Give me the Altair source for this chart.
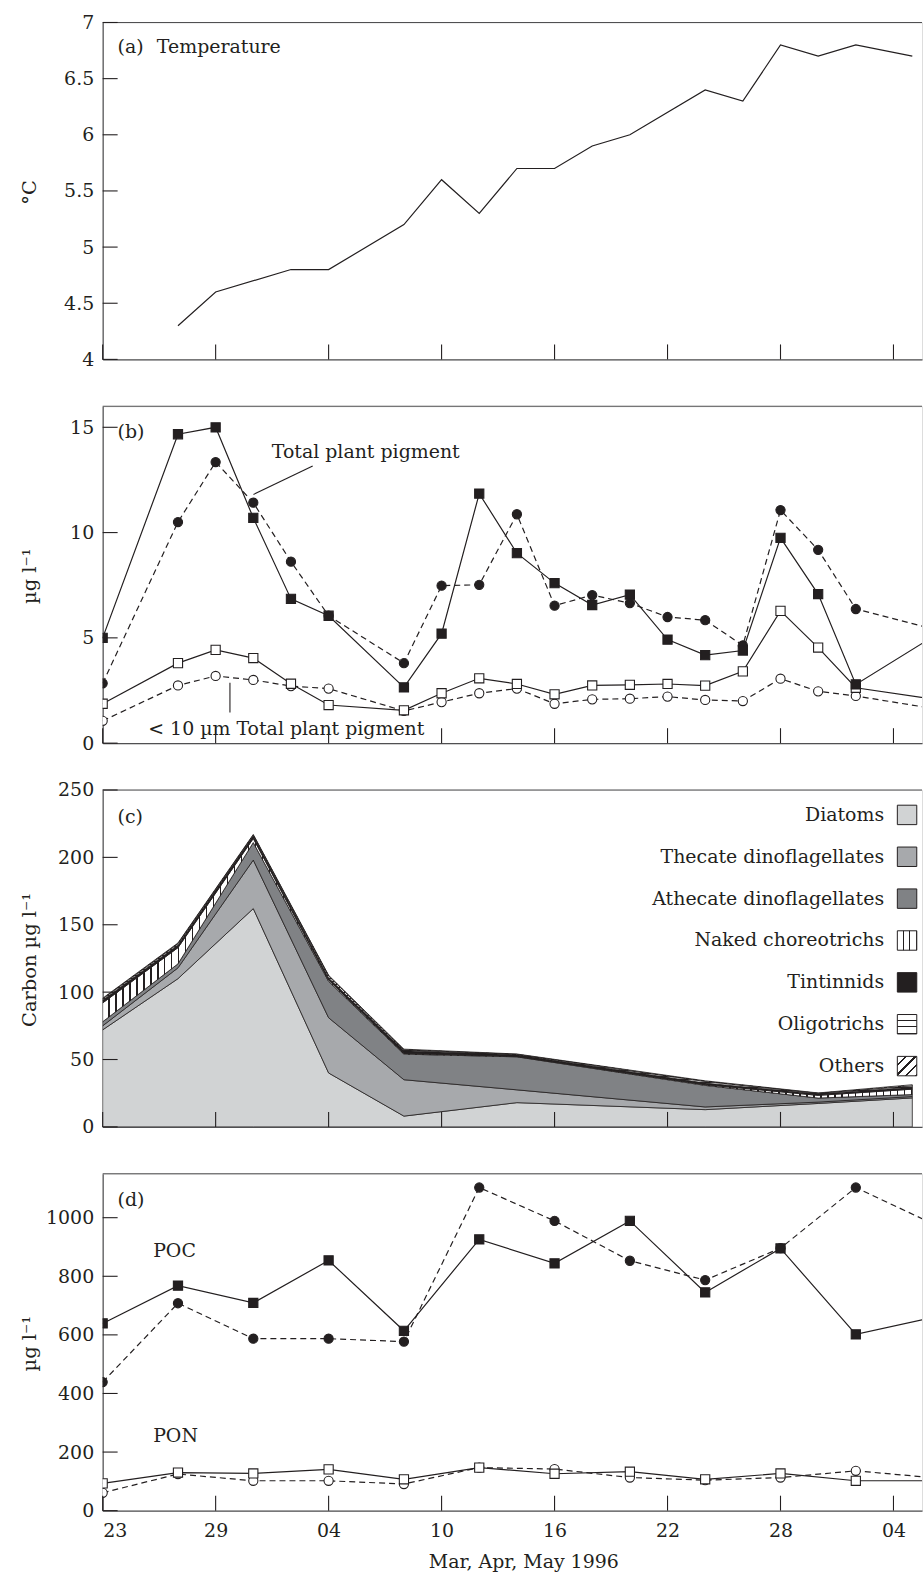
import altair as alt
import pandas as pd

FONT = "DejaVu Serif"
INK = "#231f20"
FRAME = "#505052"
FS = 19
W, H = 822, 338

# ---------------- data ----------------
# (a) temperature
temp_dates = ["1996-03-27", "1996-03-29", "1996-04-02", "1996-04-04", "1996-04-08",
              "1996-04-10", "1996-04-12", "1996-04-14", "1996-04-16", "1996-04-18",
              "1996-04-20", "1996-04-24", "1996-04-26", "1996-04-28", "1996-04-30",
              "1996-05-02", "1996-05-05"]
temp_vals = [4.3, 4.6, 4.8, 4.8, 5.2, 5.6, 5.3, 5.7, 5.7, 5.9, 6.0, 6.4, 6.3, 6.8, 6.7, 6.8, 6.7]

# (b) plant pigment
pig_dates = ["1996-03-23", "1996-03-27", "1996-03-29", "1996-03-31", "1996-04-02", "1996-04-04",
             "1996-04-08", "1996-04-10", "1996-04-12", "1996-04-14", "1996-04-16", "1996-04-18",
             "1996-04-20", "1996-04-22", "1996-04-24", "1996-04-26", "1996-04-28", "1996-04-30",
             "1996-05-02", "1996-05-06"]
pig_filled_sq = [5.0, 14.67, 15.0, 10.7, 6.85, 6.05, 2.65, 5.2, 11.85, 9.02, 7.6, 6.56,
                 7.05, 4.92, 4.18, 4.4, 9.75, 7.08, 2.79, 5.0]
pig_filled_ci = [2.84, 10.5, 13.35, 11.42, 8.62, 6.05, 3.8, 7.48, 7.52, 10.87, 6.53, 7.03,
                 6.65, 5.99, 5.84, 4.64, 11.07, 9.18, 6.37, 5.45]
pig_open_sq = [1.87, 3.8, 4.43, 4.04, 2.82, 1.81, 1.56, 2.37, 3.08, 2.81, 2.32, 2.74,
               2.77, 2.81, 2.73, 3.41, 6.28, 4.54, 2.63, 2.11]
pig_open_ci = [1.06, 2.74, 3.19, 3.0, 2.71, 2.59, 1.53, 1.95, 2.37, 2.59, 1.87, 2.08,
               2.11, 2.21, 2.05, 2.0, 3.06, 2.46, 2.24, 1.66]

# (c) carbon biomass (stacked)
carb_dates = ["1996-03-23", "1996-03-27", "1996-03-31", "1996-04-04", "1996-04-08",
              "1996-04-14", "1996-04-24", "1996-04-30", "1996-05-05"]
taxa = ["Diatoms", "Thecate dinoflagellates", "Athecate dinoflagellates",
        "Naked choreotrichs", "Tintinnids", "Oligotrichs", "Others"]
carb_diatoms = [72, 110, 162, 40, 8, 18, 12.8, 17.4, 21.5]
carb_thecate = [3, 8, 36, 41, 27, 9.5, 2, 1, 1]
carb_athecate = [3, 3, 13, 27, 19, 24.5, 16, 3, 1.5]
carb_naked = [14, 12, 3, 1, 0.5, 0.3, 0.5, 2, 4]
carb_tintinnids = [2, 2, 2, 1.5, 2, 1.2, 1.2, 1, 1.5]
carb_oligotrichs = [1, 1, 0.5, 1.5, 0.7, 0.3, 1.2, 0.5, 1]
carb_others = [0.5, 0.5, 0.5, 0.5, 0.5, 0.3, 0.5, 0.3, 0.8]

# (d) POC / PON
pp_dates = ["1996-03-23", "1996-03-27", "1996-03-31", "1996-04-04", "1996-04-08", "1996-04-12",
            "1996-04-16", "1996-04-20", "1996-04-24", "1996-04-28", "1996-05-02", "1996-05-06"]
poc_sq = [639, 768, 709, 854, 614, 926, 844, 989, 745, 895, 602, 658]
poc_ci = [439, 708, 587, 587, 577, 1103, 989, 853, 787, 896, 1103, 982]
pon_sq = [93, 130, 127, 141, 107, 147, 126, 133, 107, 127, 102, 102]
pon_ci = [61, 125, 102, 102, 91, 147, 142, 113, 104, 113, 136, 113]

tick_days = ["1996-03-23", "1996-03-29", "1996-04-04", "1996-04-10", "1996-04-16",
             "1996-04-22", "1996-04-28", "1996-05-04"]
x_title = "Mar, Apr, May 1996"

# ---------------- helpers ----------------
def ts(d):
    return d + "T00:00:00" if len(d) == 10 else d

X_START = "1996-03-23T00:00:00"
X_END = "1996-05-05T12:22:00"
X_SCALE = alt.Scale(domain=[alt.DateTime(year=1996, month=3, date=23),
                            alt.DateTime(year=1996, month=5, date=5, hours=12, minutes=22)])
TICKS = [alt.DateTime(year=int(d[:4]), month=int(d[5:7]), date=int(d[8:10])) for d in tick_days]


def x_enc(field, bottom=False):
    kw = dict(values=TICKS, format="%d", labels=bottom, ticks=False, tickSize=0, grid=False,
              domain=True, domainColor=FRAME, domainWidth=1.2)
    if bottom:
        kw.update(labelFont=FONT, labelFontSize=FS, labelColor=INK, labelPadding=11,
                  labelBaseline="top", title=x_title, titleFont=FONT, titleFontSize=FS,
                  titleFontWeight="normal", titleColor=INK, titleX=422, titleY=51,
                  titleBaseline="middle", titleAlign="center")
    else:
        kw.update(title=None)
    return alt.X(field + ":T", scale=X_SCALE, axis=alt.Axis(**kw))


def y_enc(field, domain, values, fmt, title):
    ax = alt.Axis(values=values, format=fmt, ticks=False, tickSize=0, grid=False,
                  domain=True, domainColor=FRAME, domainWidth=1.2,
                  labelFont=FONT, labelFontSize=FS, labelColor=INK, labelPadding=9,
                  title=title, titleFont=FONT, titleFontSize=FS + 0.5, titleFontWeight="normal",
                  titleColor=INK, titleX=-63, titleY=170, titleAngle=270,
                  titleBaseline="bottom", titleAlign="center")
    return alt.Y(field + ":Q", scale=alt.Scale(domain=domain, nice=False, zero=False), axis=ax)


def frame_top(yargs, bottom):
    df = pd.DataFrame({"start": [X_START], "end": [X_END], "top": [yargs[0][1]]})
    return alt.Chart(df).mark_rule(color=FRAME, strokeWidth=1.2).encode(
        x=x_enc("start", bottom), x2=alt.X2("end:T"), y=y_enc("top", *yargs))


def inward_ticks(yargs, bottom):
    xdf = pd.DataFrame({"t": [ts(d) for d in tick_days], "base": yargs[0][0]})
    xt = alt.Chart(xdf).mark_tick(orient="vertical", size=15, thickness=1.1, color=INK,
                                  yOffset=-7.5, opacity=1).encode(
        x=x_enc("t", bottom), y=y_enc("base", *yargs))
    ydf = pd.DataFrame({"start": X_START, "v": yargs[1]})
    yt = alt.Chart(ydf).mark_tick(orient="horizontal", size=15, thickness=1.1, color=INK,
                                  xOffset=7.5, opacity=1).encode(
        x=x_enc("start", bottom), y=y_enc("v", *yargs))
    return xt, yt


def texts(rows, yargs, bottom):
    df = pd.DataFrame(rows, columns=["t", "v", "label"])
    return alt.Chart(df).mark_text(font=FONT, fontSize=FS, color=INK, align="left",
                                   baseline="middle").encode(
        x=x_enc("t", bottom), y=y_enc("v", *yargs), text="label:N")


def series(dates, vals, yargs, bottom, dashed, shape, filled):
    df = pd.DataFrame({"date": [ts(d) for d in dates], "val": vals})
    base = alt.Chart(df).encode(x=x_enc("date", bottom), y=y_enc("val", *yargs))
    lkw = dict(color=INK, strokeWidth=1.2, clip=True)
    if dashed:
        lkw["strokeDash"] = [6, 4]
    line = base.mark_line(**lkw)
    pts = base.mark_point(shape=shape, filled=True, fill=INK if filled else "white",
                          stroke=INK, strokeWidth=1.1, size=85, opacity=1, clip=True)
    return line, pts


def stripes(n, frac, x1, y1, x2, y2, bg="white", fg=INK):
    stops = []
    for i in range(n):
        a, b, c = i / n, (i + 1 - frac) / n, (i + 1) / n
        stops += [{"offset": a, "color": bg}, {"offset": b, "color": bg},
                  {"offset": b, "color": fg}, {"offset": c, "color": fg}]
    return {"gradient": "linear", "x1": x1, "y1": y1, "x2": x2, "y2": y2, "stops": stops}


# ---------------- panel (a) ----------------
ya = ([4, 7], [4, 4.5, 5, 5.5, 6, 6.5, 7], "~g", "°C")
temp_df = pd.DataFrame({"date": [ts(d) for d in temp_dates], "val": temp_vals})
line_a = alt.Chart(temp_df).mark_line(color=INK, strokeWidth=1.2, clip=True).encode(
    x=x_enc("date"), y=y_enc("val", *ya))
text_a = texts([["1996-03-23T19:00:00", 6.78, "(a)\u2002\u2009Temperature"]], ya, False)
panel_a = alt.layer(line_a, frame_top(ya, False), *inward_ticks(ya, False),
                    text_a).properties(width=W, height=H)

# ---------------- panel (b) ----------------
yb = ([0, 16], [0, 5, 10, 15], "d", "µg l⁻¹")
l1, p1 = series(pig_dates, pig_open_ci, yb, False, True, "circle", False)
l2, p2 = series(pig_dates, pig_open_sq, yb, False, False, "square", False)
l3, p3 = series(pig_dates, pig_filled_ci, yb, False, True, "circle", True)
l4, p4 = series(pig_dates, pig_filled_sq, yb, False, False, "square", True)
text_b = texts([["1996-03-23T19:00:00", 14.78, "(b)"],
                ["1996-03-31T23:30:00", 13.83, "Total plant pigment"],
                ["1996-03-25T10:05:00", 0.68, "< 10 µm Total plant pigment"]], yb, False)
ptr_df = pd.DataFrame({"t1": ["1996-04-03T03:42:00", "1996-03-29T18:14:00"],
                       "t2": ["1996-03-31T00:14:00", "1996-03-29T18:14:00"],
                       "v1": [13.16, 2.87], "v2": [11.81, 1.45]})
ptr_b = alt.Chart(ptr_df).mark_rule(color=INK, strokeWidth=1.1).encode(
    x=x_enc("t1"), x2=alt.X2("t2:T"), y=y_enc("v1", *yb), y2=alt.Y2("v2:Q"))
panel_b = alt.layer(l1, l2, l3, l4, p1, p2, p3, p4, ptr_b, text_b,
                    frame_top(yb, False), *inward_ticks(yb, False)).properties(width=W, height=H)

# ---------------- panel (c) ----------------
yc = ([0, 250], [0, 50, 100, 150, 200, 250], "d", "Carbon µg l⁻¹")
carb_series = [carb_diatoms, carb_thecate, carb_athecate, carb_naked,
               carb_tintinnids, carb_oligotrichs, carb_others]
rows = []
for k, (name, vals) in enumerate(zip(taxa, carb_series)):
    for d, v in zip(carb_dates, vals):
        rows.append({"date": ts(d), "taxon": name, "order": k, "carbon": v})
carb_df = pd.DataFrame(rows)

fills = {
    "Diatoms": "#d1d3d4",
    "Thecate dinoflagellates": "#a7a9ac",
    "Athecate dinoflagellates": "#808285",
    "Naked choreotrichs": stripes(116, 0.2, 0, 0, 1, 0),
    "Tintinnids": INK,
    "Oligotrichs": stripes(90, 0.3, 0, 0, 0, 1),
    "Others": stripes(150, 0.3, 0, 0, 1, 1),
}
swatch_fills = {
    "Diatoms": "#d1d3d4",
    "Thecate dinoflagellates": "#a7a9ac",
    "Athecate dinoflagellates": "#808285",
    "Naked choreotrichs": stripes(3, 0.16, 0, 0, 1, 0),
    "Tintinnids": INK,
    "Oligotrichs": stripes(3, 0.16, 0, 0, 0, 1),
    "Others": stripes(4, 0.25, 0, 0, 1, 1),
}

stacked = alt.Chart(carb_df).transform_stack(
    stack="carbon", groupby=["date"], as_=["c0", "c1"],
    sort=[alt.SortField("order", order="ascending")])
area_layers = []
for name in taxa:
    area_layers.append(
        stacked.transform_filter(alt.datum.taxon == name).mark_area(
            fill=fills[name], stroke=INK, strokeWidth=0.8, opacity=1, clip=True).encode(
            x=x_enc("date"), y=y_enc("c1", *yc), y2=alt.Y2("c0:Q")))
text_c = texts([["1996-03-23T19:00:00", 229.7, "(c)"]], yc, False)
main_c = alt.layer(*area_layers, frame_top(yc, False), *inward_ticks(yc, False), text_c)

leg_df = pd.DataFrame({"name": taxa})
LEG_Y = alt.Scale(type="point", domain=taxa, range=[25, 277], padding=0)
leg_text = alt.Chart(leg_df).mark_text(font=FONT, fontSize=FS, color=INK, align="right",
                                       baseline="middle").encode(
    x=alt.value(784), y=alt.Y("name:N", scale=LEG_Y, axis=None), text="name:N")
swatches = []
for name in taxa:
    swatches.append(
        alt.Chart(leg_df[leg_df["name"] == name]).mark_square(
            size=380, fill=swatch_fills[name], stroke=INK, strokeWidth=1, opacity=1).encode(
            x=alt.value(807), y=alt.Y("name:N", scale=LEG_Y, axis=None)))
legend_c = alt.layer(leg_text, *swatches)
panel_c = alt.layer(main_c, legend_c).resolve_scale(y="independent").properties(width=W, height=H)

# ---------------- panel (d) ----------------
yd = ([0, 1150], [0, 200, 400, 600, 800, 1000], "d", "µg l⁻¹")
m1, q1 = series(pp_dates, pon_ci, yd, True, True, "circle", False)
m2, q2 = series(pp_dates, pon_sq, yd, True, False, "square", False)
m3, q3 = series(pp_dates, poc_ci, yd, True, True, "circle", True)
m4, q4 = series(pp_dates, poc_sq, yd, True, False, "square", True)
text_d = texts([["1996-03-23T19:00:00", 1060, "(d)"],
                ["1996-03-25T16:20:00", 887, "POC"],
                ["1996-03-25T16:20:00", 255, "PON"]], yd, True)
panel_d = alt.layer(m1, m2, m3, m4, q1, q2, q3, q4, text_d,
                    frame_top(yd, True), *inward_ticks(yd, True)).properties(width=W, height=H)

chart = alt.vconcat(panel_a, panel_b, panel_c, panel_d, spacing=47, bounds="flush").properties(
    padding={"left": 19, "top": 10, "right": 0, "bottom": 0}
).configure_view(strokeWidth=0).configure(background="white")

chart.save("out.html", embed_options={"renderer": "svg", "actions": False})
